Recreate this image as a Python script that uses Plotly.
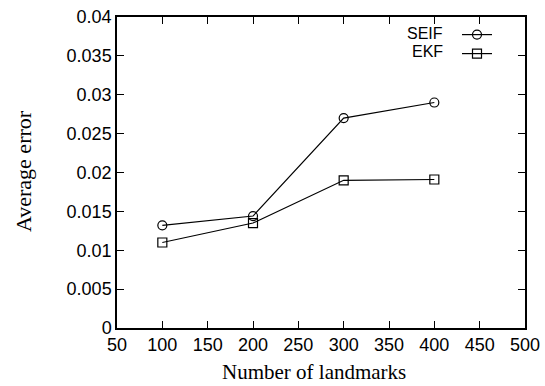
import plotly.graph_objects as go

landmarks = [100, 200, 300, 400]
seif_error = [0.0132, 0.0144, 0.0270, 0.0290]
ekf_error = [0.0110, 0.0135, 0.0190, 0.0191]
series_names = ["SEIF", "EKF"]

x_ticks = [50, 100, 150, 200, 250, 300, 350, 400, 450, 500]
y_ticks = [0, 0.005, 0.01, 0.015, 0.02, 0.025, 0.03, 0.035, 0.04]
y_tick_labels = ["0", "0.005", "0.01", "0.015", "0.02", "0.025", "0.03", "0.035", "0.04"]

fig = go.Figure()
fig.add_trace(go.Scatter(
    x=landmarks, y=seif_error, mode="lines+markers", name=" ",
    line=dict(color="black", width=1.2),
    marker=dict(symbol="circle-open", size=9, color="black", line=dict(width=1.2)),
))
fig.add_trace(go.Scatter(
    x=landmarks, y=ekf_error, mode="lines+markers", name="  ",
    line=dict(color="black", width=1.2),
    marker=dict(symbol="square-open", size=9, color="black", line=dict(width=1.2)),
))

tickfont = dict(family="Liberation Sans, Arial, sans-serif", size=18, color="black")
titlefont = dict(family="Liberation Serif, Times New Roman, serif", size=21, color="black")

L, R, T, B = 117, 20, 17, 58
pw = 545 - L - R
ph = 386 - T - B

fig.update_layout(
    width=545, height=386,
    margin=dict(l=L, r=R, t=T, b=B, autoexpand=False),
    paper_bgcolor="white", plot_bgcolor="white",
    showlegend=True,
    legend=dict(x=(457 - L) / pw, y=0.99, xanchor="left", yanchor="top",
                bgcolor="rgba(0,0,0,0)", font=dict(size=11, family="Liberation Sans"),
                tracegroupgap=0, itemwidth=30),
    xaxis=dict(range=[50, 500], tickvals=x_ticks, ticks="inside", ticklen=7,
               tickcolor="black", showline=True, linecolor="black", linewidth=1.5,
               mirror="allticks", showgrid=False, zeroline=False, tickfont=tickfont,
               automargin=False),
    yaxis=dict(range=[0, 0.04], tickvals=y_ticks, ticktext=y_tick_labels, ticks="inside",
               ticklen=7, tickcolor="black", showline=True, linecolor="black", linewidth=1.5,
               mirror="allticks", showgrid=False, zeroline=False, tickfont=tickfont,
               automargin=False),
)

fig.add_annotation(text="Number of landmarks", xref="paper", yref="paper",
                   x=(314 - L) / pw, y=-(372 - (386 - B)) / ph, xanchor="center", yanchor="middle",
                   showarrow=False, font=titlefont)
fig.add_annotation(text="Average error", xref="paper", yref="paper",
                   x=-(L - 23) / pw, y=(386 - B - 171) / ph, xanchor="center", yanchor="middle",
                   textangle=-90, showarrow=False, font=dict(titlefont, size=22))

for i, name in enumerate(series_names):
    fig.add_annotation(text=name, xref="paper", yref="paper",
                       x=(444 - L) / pw, y=(386 - B - (33 + 19 * i)) / ph,
                       xanchor="right", yanchor="middle", showarrow=False,
                       borderpad=0,
                       font=dict(family="Liberation Sans, Arial, sans-serif", size=16, color="black"))

fig.write_html("out.html", config={"displayModeBar": False})

# remove the browser's default page margin so the figure sits at the window origin
with open("out.html", "r", encoding="utf-8") as f:
    html = f.read()
html = html.replace("<head>", "<head><style>html,body{margin:0;padding:0;overflow:hidden}</style>", 1)
with open("out.html", "w", encoding="utf-8") as f:
    f.write(html)
